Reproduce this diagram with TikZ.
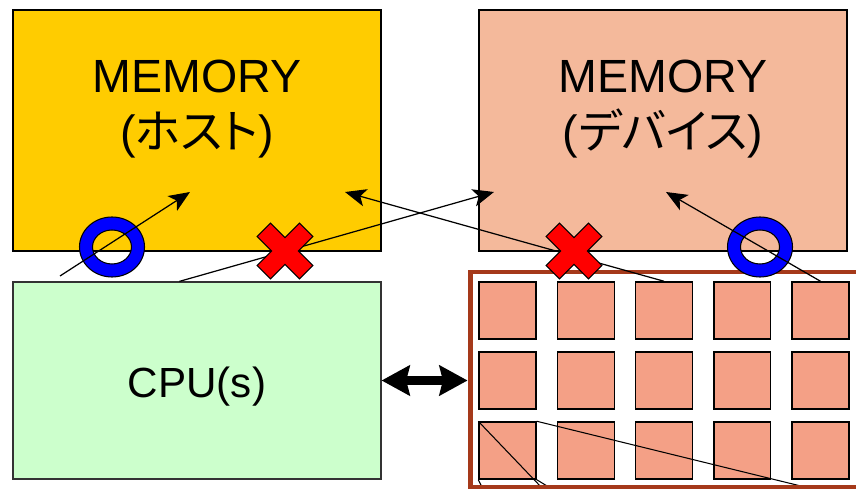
\documentclass[tikz,border=0pt]{standalone}
\usepackage{fontspec}
\setmainfont{Liberation Sans}
\newfontfamily\kana[RawFeature=+palt]{Noto Sans CJK JP}
\usetikzlibrary{arrows.meta,positioning}
\definecolor{hostmem}{HTML}{FFCC00}
\definecolor{devmem}{HTML}{F4B99B}
\definecolor{cpugreen}{HTML}{CCFFCC}
\definecolor{corefill}{HTML}{F4A086}
\definecolor{gpuframe}{HTML}{A5391A}
\tikzset{box/.style={
    draw, line width=0.7pt, inner sep=0pt,
    minimum width=7.36cm, minimum height=4.82cm
  },
  memtext/.style={font=\fontsize{26.5}{32}\selectfont, align=center},
  core/.style={draw, fill=corefill, line width=0.85pt, minimum size=1.14cm, inner sep=0pt},
  access/.style={-{Stealth[length=12pt,width=10pt,inset=3pt]}, line width=0.7pt},
  link/.style={{Stealth[length=16pt,width=17pt,inset=2pt]}-{Stealth[length=16pt,width=17pt,inset=2pt]}, line width=5pt},
  ok/.pic={
    \filldraw[fill=blue, line width=0.6pt, even odd rule]
      (0,0) ellipse [x radius=32.5, y radius=30]
      (0,0) ellipse [x radius=19.5, y radius=17];
  },
  ng/.pic={
    \filldraw[fill=red, line width=0.6pt, rotate=45]
      (-30,-9.5) -- (-9.5,-9.5) -- (-9.5,-30) -- (9.5,-30) -- (9.5,-9.5) -- (30,-9.5)
      -- (30,9.5) -- (9.5,9.5) -- (9.5,30) -- (-9.5,30) -- (-9.5,9.5) -- (-30,9.5) -- cycle;
  }
}
\begin{document}
\begin{tikzpicture}[x=0.02cm, y=-0.02cm]
  \path[use as bounding box] (0,0) rectangle (856,489);
  \clip (0,0) rectangle (856,489);
  \node[box, fill=hostmem] (host) at (197,130.5) {};
  \node[box, fill=devmem] (dev) at (663,130.5) {};
  \node[box, fill=cpugreen, draw=black!80, minimum height=3.94cm] (cpu) at (197,380.5) {};
  \node[memtext] (host label) at ([yshift=0.43cm]host.center) {MEMORY\\({\kana ホスト})};
  \node[memtext] (dev label) at ([yshift=0.43cm]dev.center) {MEMORY\\({\kana デバイス})};
  \node[font=\fontsize{24}{28}\selectfont] (cpu label) at ([yshift=-0.13cm]cpu.center) {CPU(s)};
  \foreach \r in {1,2,3}
    \foreach \c in {1,...,5}
      \node[core] (s-\r-\c) at ({507.5+78.25*(\c-1)}, {310.5+70*(\r-1)}) {};
  \coordinate (z1) at (483,489);
  \coordinate (z2) at (543,489);
  \coordinate (z3) at (552,489);
  \coordinate (z4) at (813,489);
  \draw[line width=0.6pt] (s-3-1.south west) -- (z1)
    (s-3-1.north west) -- (z2)
    (s-3-1.south east) -- (z3)
    (s-3-1.north east) -- (z4);
  \node[draw=gpuframe, line width=2.8pt, minimum width=8cm, minimum height=4.3cm] (gpu) at (670,379.5) {};
  \draw[link] (cpu.east) -- (cpu.east -| gpu.west);
  \coordinate (cpu out) at ([xshift=3.34cm]cpu.north west);
  \coordinate (h0) at (60,276);
  \coordinate (host a) at (190,192);
  \coordinate (host b) at (345,192);
  \coordinate (dev a) at (494,192);
  \coordinate (dev b) at (666,192);
  \pic at (112,247) {ok};
  \pic at (760,247) {ok};
  \draw[access] (h0) -- (host a);
  \draw[access] (cpu out) -- (dev a);
  \draw[access] (s-1-3.north) -- (host b);
  \draw[access] (s-1-5.north) -- (dev b);
  \pic at (285,251) {ng};
  \pic at (574,251) {ng};
\end{tikzpicture}
\end{document}
